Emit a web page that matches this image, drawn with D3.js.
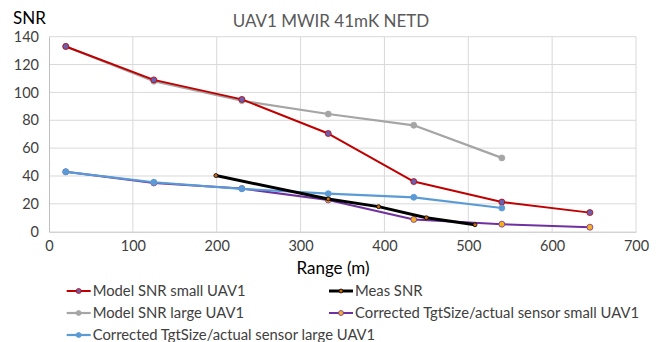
<!DOCTYPE html>
<html><head><meta charset="utf-8">
<script src="https://cdn.jsdelivr.net/npm/d3@7"></script>
<style>body{margin:0;background:#fff}svg{display:block}</style>
</head><body>
<script>
const title = "UAV1 MWIR 41mK NETD";
const xTicks = [0,100,200,300,400,500,600,700];
const yTicks = [0,20,40,60,80,100,120,140];

const smallX = [20,125,230,333,435,540,645];
const smallY = [133,109,95,70.5,36,21.3,13.7];
const largeX = [20,125,230,333,435,540];
const largeY = [133,108,94,84.5,76.4,53];
const measX = [199,333,393,450,508];
const measY = [40.3,23.5,18,10,5];
const corrSmallX = [20,125,230,333,435,540,645];
const corrSmallY = [43,35,31,22.8,8.8,5.4,3.2];
const corrLargeX = [20,125,230,333,435,540];
const corrLargeY = [43,35.5,30.8,27.3,24.7,17];

const series = [
  {name:"Model SNR large UAV1", xs:largeX, ys:largeY, line:"#a5a5a5", mfill:"#a5a5a5", mstroke:"#a5a5a5", w:2.2, r:3, leg:[0,1]},
  {name:"Model SNR small UAV1", xs:smallX, ys:smallY, line:"#c00000", mfill:"#6a5fb0", mstroke:"#c00000", w:2, r:3, leg:[0,0]},
  {name:"Corrected TgtSize/actual sensor small UAV1", xs:corrSmallX, ys:corrSmallY, line:"#7030a0", mfill:"#f5b020", mstroke:"#7030a0", w:2, r:3, leg:[1,1]},
  {name:"Corrected TgtSize/actual sensor large UAV1", xs:corrLargeX, ys:corrLargeY, line:"#5b9bd5", mfill:"#5b9bd5", mstroke:"#5b9bd5", w:2.2, r:3, leg:[0,2]},
  {name:"Meas SNR", xs:measX, ys:measY, line:"#000000", mfill:"#c86a10", mstroke:"#000000", w:3, r:2, leg:[1,0]}
];

const W=659,H=342;
const svg=d3.select("body").append("svg").attr("width",W).attr("height",H);
const FONT="Lato, 'Open Sans', sans-serif";
const x=d3.scaleLinear().domain([0,700]).range([49,636]);
const y=d3.scaleLinear().domain([0,140]).range([231.7,36.7]);

// gridlines
svg.append("g").selectAll("line.h").data(yTicks.filter(d=>d>0)).join("line")
  .attr("x1",x(0)).attr("x2",x(700)).attr("y1",d=>y(d)).attr("y2",d=>y(d))
  .attr("stroke","#d9d9d9").attr("stroke-width",1);
svg.append("g").selectAll("line.v").data(xTicks.filter(d=>d>0)).join("line")
  .attr("y1",y(0)).attr("y2",y(140)).attr("x1",d=>x(d)).attr("x2",d=>x(d))
  .attr("stroke","#d9d9d9").attr("stroke-width",1);

// axes
const xa=svg.append("g").attr("transform",`translate(0,${y(0)})`)
  .call(d3.axisBottom(x).tickValues(xTicks).tickSize(0).tickPadding(9));
xa.select(".domain").attr("stroke","#bfbfbf");
xa.selectAll("text").attr("font-family",FONT).attr("font-size",14.5).attr("fill","#404040");
const ya=svg.append("g").attr("transform",`translate(${x(0)},0)`)
  .call(d3.axisLeft(y).tickValues(yTicks).tickSize(0).tickPadding(10));
ya.select(".domain").attr("stroke","#bfbfbf");
ya.selectAll("text").attr("font-family",FONT).attr("font-size",14.5).attr("fill","#404040");

// series
const line=d3.line().x(d=>x(d[0])).y(d=>y(d[1]));
series.forEach(s=>{
  const pts=s.xs.map((v,i)=>[v,s.ys[i]]);
  svg.append("path").datum(pts).attr("d",line).attr("fill","none")
    .attr("stroke",s.line).attr("stroke-width",s.w).attr("stroke-linejoin","round");
  svg.append("g").selectAll("circle").data(pts).join("circle")
    .attr("cx",d=>x(d[0])).attr("cy",d=>y(d[1])).attr("r",s.r)
    .attr("fill",s.mfill).attr("stroke",s.mstroke).attr("stroke-width",0.8);
});

// titles
svg.append("text").attr("x",331).attr("y",27).attr("text-anchor","middle")
  .attr("font-family",FONT).attr("font-size",17).attr("fill","#595959").text(title);
svg.append("text").attr("x",13).attr("y",24)
  .attr("font-family",FONT).attr("font-size",17).attr("fill","#000").text("SNR");
svg.append("text").attr("x",333).attr("y",274).attr("text-anchor","middle")
  .attr("font-family",FONT).attr("font-size",17).attr("fill","#000").text("Range (m)");

// legend
const colX=[66.7,329], rowY=[291,313,335];
series.forEach(s=>{
  const lx=colX[s.leg[0]], ly=rowY[s.leg[1]];
  const g=svg.append("g");
  g.append("line").attr("x1",lx).attr("x2",lx+24).attr("y1",ly).attr("y2",ly)
    .attr("stroke",s.line).attr("stroke-width",s.w);
  g.append("circle").attr("cx",lx+12).attr("cy",ly).attr("r",Math.min(s.r,2.5))
    .attr("fill",s.mfill).attr("stroke",s.mstroke).attr("stroke-width",0.8);
  g.append("text").attr("x",lx+26).attr("y",ly).attr("dy","0.35em")
    .attr("font-family",FONT).attr("font-size",14.8).attr("fill","#404040").text(s.name);
});
</script>
</body></html>
